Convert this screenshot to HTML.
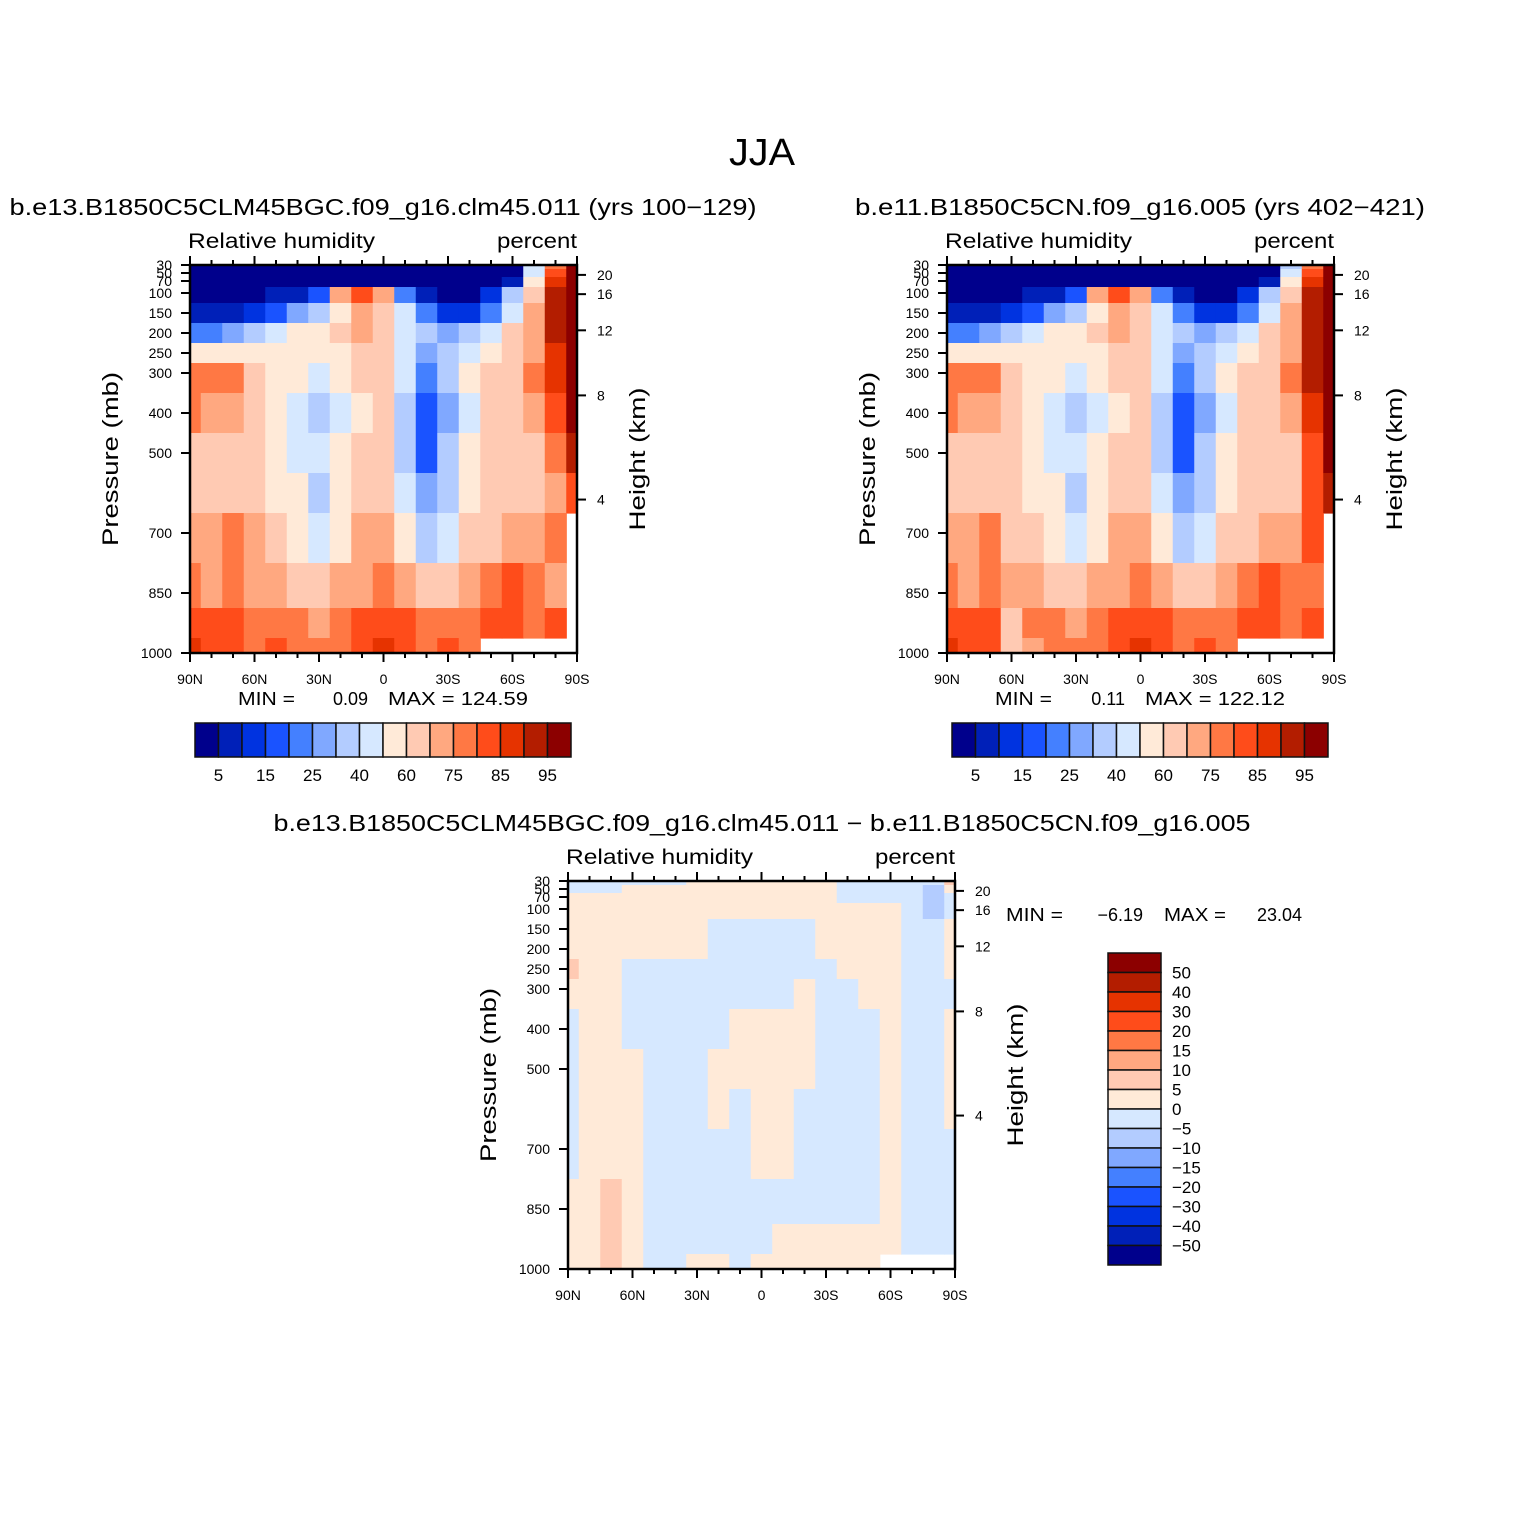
<!DOCTYPE html>
<html><head><meta charset="utf-8"><style>
body{margin:0;background:#fff}
svg text{font-family:"Liberation Sans",sans-serif;fill:#000}
</style></head><body>
<svg id="c" width="1524" height="1524" viewBox="0 0 1524 1524" xmlns="http://www.w3.org/2000/svg">
<text x="762" y="165" font-size="38" text-anchor="middle" textLength="66" lengthAdjust="spacingAndGlyphs">JJA</text>
</svg>
<script>
const lats=[90,80,70,60,50,40,30,20,10,0,-10,-20,-30,-40,-50,-60,-70,-80,-90];
const plevs=[30,50,70,100,150,200,250,300,400,500,600,700,850,925,1000];
const rhLevels=[5,10,15,20,25,30,40,50,60,70,75,80,85,90,95];
const rhLabels=["5","15","25","40","60","75","85","95"];
const diffLevels=[-50,-40,-30,-20,-15,-10,-5,0,5,10,15,20,30,40,50];
const diffLabels=["−50","−40","−30","−20","−15","−10","−5","0","5","10","15","20","30","40","50"];
const palette=["#00008c","#0020b8","#0033e0","#1a53ff","#4480ff","#80a8ff","#b3ccff","#d6e8ff","#ffead8","#ffcab3","#ffa880","#ff7844","#ff4c1a","#e63300","#b31d00","#8c0000"];
const pTicks=[30,50,70,100,150,200,250,300,400,500,700,850,1000];
const kmTicks=[4,8,12,16,20];
const latTicks=[90,60,30,0,-30,-60,-90];
const latTickLabels=["90N","60N","30N","0","30S","60S","90S"];
const rh1=[
[2,2,2,2,2,2,2,2,2,2,2,2,2,2,2,3,40,78,100],
[2,2,2,2,2,2,2,2,2,2,2,2,2,2,2,4,45,80,100],
[2,2,2,2,2,2,2,2,2,2,2,2,2,2,2,8,55,85,100],
[3,3,3,3,5,8,15,70,80,72,20,5,3,3,10,30,65,90,100],
[5,5,8,12,18,25,35,55,70,62,40,20,12,10,20,45,70,90,100],
[20,22,25,35,45,50,55,60,70,62,45,30,25,30,45,60,72,90,100],
[55,50,50,55,58,55,52,58,65,60,42,25,30,45,58,65,72,88,100],
[75,78,78,65,58,55,45,55,60,60,40,20,30,50,62,68,75,85,100],
[75,72,70,62,55,45,35,45,55,60,30,15,25,45,60,65,70,80,95],
[65,62,62,60,55,45,40,50,60,62,30,15,30,50,62,65,67,75,90],
[65,63,62,62,58,50,38,50,65,65,40,25,35,55,62,65,66,72,80],
[72,70,75,70,62,55,45,55,70,72,55,38,45,60,66,70,72,75,null],
[76,74,77,70,74,66,62,70,74,77,70,62,65,74,78,82,78,74,null],
[80,80,81,76,79,77,72,77,80,83,80,76,78,79,82,84,79,80,null],
[86,83,80,75,80,79,77,79,83,86,83,79,80,79,null,null,null,null,null]];
const rh2=[
[2,2,2,2,2,2,2,2,2,2,2,2,2,2,2,3,35,78,100],
[2,2,2,2,2,2,2,2,2,2,2,2,2,2,2,4,42,80,100],
[2,2,2,2,2,2,2,2,2,2,2,2,2,2,2,8,52,85,100],
[3,3,3,3,5,8,15,70,80,72,20,5,3,3,10,30,62,90,100],
[5,5,8,12,18,25,35,55,70,62,40,20,12,10,20,45,70,92,100],
[20,22,25,35,45,50,55,60,70,62,45,30,25,30,45,60,72,92,100],
[55,50,50,55,58,55,52,58,65,60,42,25,30,45,58,65,74,92,100],
[75,78,78,65,58,55,45,55,60,60,40,20,30,50,62,68,76,92,100],
[75,72,70,62,55,45,35,45,55,60,30,15,25,45,60,65,70,85,98],
[65,62,62,60,55,45,40,50,60,62,30,15,30,50,62,65,67,80,95],
[65,63,62,62,58,50,38,50,65,65,40,25,35,55,62,65,66,80,90],
[72,70,75,68,62,55,45,55,70,72,55,38,45,60,66,70,72,80,null],
[76,74,77,70,72,66,62,70,74,77,70,62,65,74,78,82,78,76,null],
[80,80,81,68,75,77,72,77,80,83,80,76,78,79,82,84,79,80,null],
[86,83,80,62,72,79,77,79,83,86,83,79,80,79,null,null,null,null,null]];
const diff=[
[-2,-2,-2,-2,-2,-2,2,2,2,2,2,2,2,-2,-2,-2,-2,-2,8],
[-2,-2,-2,2,2,2,2,2,2,2,2,2,2,-2,-2,-2,-2,-7,3],
[2,2,2,2,2,2,2,2,2,2,2,2,2,-2,-2,-2,-2,-7,-2],
[2,2,2,2,2,2,2,2,2,2,2,2,2,2,2,2,-2,-7,-2],
[2,2,2,2,2,2,2,-2,-2,-2,-2,-2,2,2,2,2,-2,-2,2],
[2,2,2,2,2,2,2,-2,-2,-2,-2,-2,2,2,2,2,-2,-2,2],
[6,2,2,-2,-2,-2,-2,-2,-2,-2,-2,-2,-2,2,2,2,-2,-2,2],
[2,2,2,-2,-2,-2,-2,-2,-2,-2,-2,2,-2,-2,2,2,-2,-2,-2],
[-1,2,2,-2,-2,-2,-2,-2,2,2,2,2,-2,-2,-2,2,-2,-2,2],
[-1,2,2,2,-2,-2,-2,2,2,2,2,2,-2,-2,-2,2,-2,-2,2],
[-2,2,2,2,-2,-2,-2,2,-2,2,2,-2,-2,-2,-2,2,-2,-2,2],
[-2,2,2,1,-2,-2,-2,-2,-2,2,2,-2,-2,-2,-2,2,-2,-2,-2],
[2,2,7,4,-2,-2,-2,-2,-2,-2,-2,-2,-2,-2,-2,2,-2,-2,-2],
[2,2,8,2,-2,-2,-2,-2,-2,-2,2,2,2,2,2,2,-2,-2,-2],
[2,2,7,2,-2,-2,2,2,-2,2,2,2,2,2,2,null,null,null,null]];

const NS="http://www.w3.org/2000/svg";
const svg=document.getElementById('c');
function mk(tag,attrs,parent){const e=document.createElementNS(NS,tag);for(const k in attrs)e.setAttribute(k,attrs[k]);(parent||svg).appendChild(e);return e;}
function txt(s,x,y,size,anchor,parent,len){const a={x:x,y:y,'font-size':size,'text-anchor':anchor||'start'};if(len){a.textLength=len;a.lengthAdjust='spacingAndGlyphs';}const t=mk('text',a,parent);t.textContent=s;return t;}
function colorFor(v,levels){let i=0;while(i<levels.length&&v>=levels[i])i++;return palette[i];}
function kmToP(z){const m=z*1000;if(m<=11000)return 1013.25*Math.pow(1-2.25577e-5*m,5.25588);return 226.32*Math.exp(-(m-11000)/6341.6);}

function panel(name,x0,y0,data,levels,title,tx,tlen){
  const W=387,H=388;
  const g=mk('g',{});
  
  
  const xs=lat=>x0+(90-lat)/180*W;
  const ys=p=>y0+(p-30)/970*H;
  for(let r=0;r<plevs.length;r++){
    const pt=r==0?plevs[0]:(plevs[r]+plevs[r-1])/2;
    const pb=r==plevs.length-1?plevs[r]:(plevs[r]+plevs[r+1])/2;
    for(let c=0;c<lats.length;c++){
      const v=data[r][c]; if(v===null)continue;
      const la=c==0?lats[0]:(lats[c]+lats[c-1])/2;
      const lb=c==lats.length-1?lats[c]:(lats[c]+lats[c+1])/2;
      const x1=xs(la),x2=xs(lb),y1=ys(pt),y2=ys(pb);
      const cell=mk('rect',{x:x1.toFixed(2),y:y1.toFixed(2),width:(x2-x1+0.6).toFixed(2),height:(y2-y1+0.6).toFixed(2),fill:colorFor(v,levels)},g);
      
      
    }
  }
  const fr=mk('rect',{x:x0,y:y0,width:W,height:H,fill:'none',stroke:'#000','stroke-width':2.5},g);
  
  
  for(let lat=90;lat>=-90;lat-=10){
    const x=xs(lat),major=(lat%30===0),L=major?9:5;
    mk('line',{x1:x,y1:y0+H,x2:x,y2:y0+H+L,stroke:'#000','stroke-width':2},g);
    mk('line',{x1:x,y1:y0,x2:x,y2:y0-L,stroke:'#000','stroke-width':2},g);
  }
  latTicks.forEach((lat,i)=>{const t=txt(latTickLabels[i],xs(lat),y0+H+31,14,'middle',g);
    
    });
  pTicks.forEach(p=>{const y=ys(p);
    mk('line',{x1:x0-9,y1:y,x2:x0,y2:y,stroke:'#000','stroke-width':2},g);
    const t=txt(String(p),x0-18,y+5,14,'end',g);
    
    });
  kmTicks.forEach(k=>{const y=ys(kmToP(k));
    mk('line',{x1:x0+W,y1:y,x2:x0+W+9,y2:y,stroke:'#000','stroke-width':2},g);
    const t=txt(String(k),x0+W+20,y+5,14,'start',g);
    
    });
  const yt=txt('Pressure (mb)',0,0,22,'middle',g,174);
  yt.setAttribute('transform',`translate(${x0-72},${y0+194}) rotate(-90)`);
  
  
  const ht=txt('Height (km)',0,0,22,'middle',g,143);
  ht.setAttribute('transform',`translate(${x0+W+68},${y0+194}) rotate(-90)`);
  
  
  const l1=txt('Relative humidity',x0-2,y0-17,21,'start',g,187);
  
  
  const l2=txt('percent',x0+W,y0-17,21,'end',g,80);
  
  
  const tt=txt(title,tx,y0-50,23,'middle',g,tlen);
  
  
  return g;
}
panel('panel-case1',190,265,rh1,rhLevels,'b.e13.B1850C5CLM45BGC.f09_g16.clm45.011 (yrs 100−129)',383,747);
panel('panel-case2',947,265,rh2,rhLevels,'b.e11.B1850C5CN.f09_g16.005 (yrs 402−421)',1140,570);
panel('panel-difference',568,881,diff,diffLevels,'b.e13.B1850C5CLM45BGC.f09_g16.clm45.011 − b.e11.B1850C5CN.f09_g16.005',762,977);

function minmax(x,y,mn,mx,name){
  const g=mk('g',{});
  
  
  txt('MIN =',x,y,18,'start',g,57);txt(mn,x+130,y,18,'end',g);
  txt('MAX = '+mx,x+150,y,18,'start',g,140);
}
minmax(238,705,'0.09','124.59','minmax-case1');
minmax(995,705,'0.11','122.12','minmax-case2');
const dg=mk('g',{});


txt('MIN =',1006,921,18,'start',dg,57);
txt('−6.19',1143,921,18,'end',dg);
txt('MAX =',1164,921,18,'start',dg,62);
txt('23.04',1302,921,18,'end',dg);

function hbar(x0,name){
  const g=mk('g',{});
  
  
  const bw=23.5;
  palette.forEach((c,i)=>{const r=mk('rect',{x:x0+i*bw,y:723,width:bw,height:34,fill:c,stroke:'#111','stroke-width':1.5},g);
    
    });
  rhLabels.forEach((s,i)=>{const t=txt(s,x0+(2*i+1)*bw,781,17,'middle',g);
    
    });
}
hbar(195,'colorbar-case1');hbar(952,'colorbar-case2');
(function(){
  const g=mk('g',{});
  
  
  const bh=19.5,top=953;
  for(let i=0;i<16;i++){const r=mk('rect',{x:1108,y:top+i*bh,width:53,height:bh,fill:palette[15-i],stroke:'#111','stroke-width':1.5},g);
    
    }
  for(let k=1;k<=15;k++){const t=txt(diffLabels[15-k],1172,top+k*bh+6,17,'start',g);
    
    }
})();
</script>
</body></html>
